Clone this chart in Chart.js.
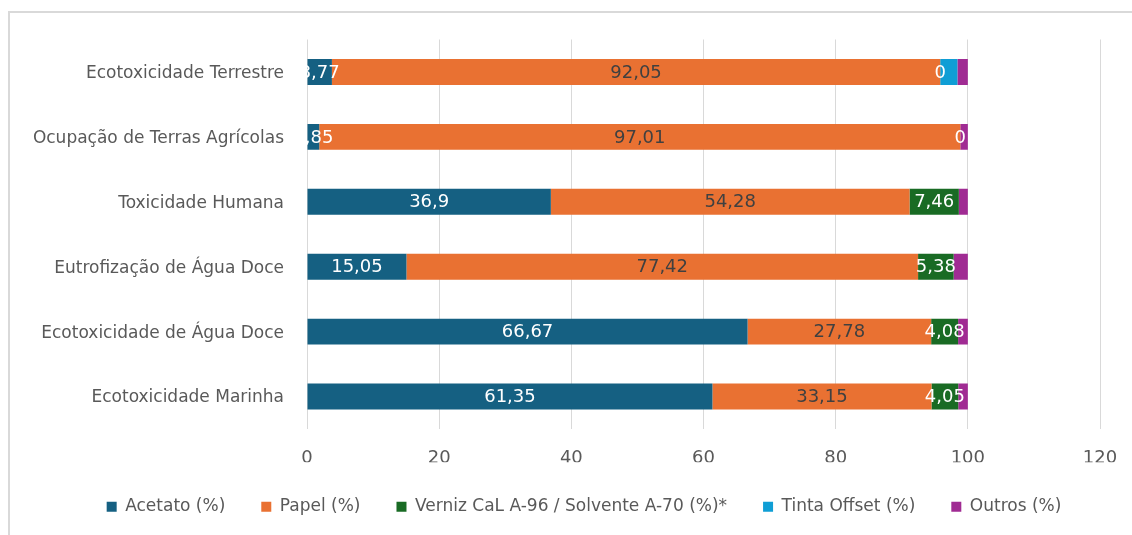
<!DOCTYPE html>
<html>
<head>
<meta charset="utf-8">
<script src="https://cdn.jsdelivr.net/npm/chart.js@4.4.1/dist/chart.umd.min.js"></script>
<style>
  html, body { margin: 0; padding: 0; background: #ffffff; overflow: hidden; }
  #frame {
    position: absolute; left: 8px; top: 11px; width: 1300px; height: 700px;
    border-left: 2px solid #d9d9d9; border-top: 2px solid #d9d9d9;
  }
  #wrap { position: absolute; left: 0; top: 0; width: 1132px; height: 535px; }
</style>
</head>
<body>
<div id="frame"></div>
<div id="wrap"><canvas id="chart" width="1132" height="535"></canvas></div>
<script>
// Impact categories (top to bottom)
const categories = [
  'Ecotoxicidade Terrestre',
  'Ocupação de Terras Agrícolas',
  'Toxicidade Humana',
  'Eutrofização de Água Doce',
  'Ecotoxicidade de Água Doce',
  'Ecotoxicidade Marinha'
];

// Contribution of each component (%)
const acetato = [3.77, 1.85, 36.9, 15.05, 66.67, 61.35];
const papel   = [92.05, 97.01, 54.28, 77.42, 27.78, 33.15];
const verniz  = [0, 0, 7.46, 5.38, 4.08, 4.05];
const tinta   = [2.6, 0, 0, 0, 0, 0];
const outros  = [1.58, 1.14, 1.36, 2.15, 1.47, 1.45];

const seriesNames = [
  'Acetato (%)',
  'Papel (%)',
  'Verniz CaL A-96 / Solvente A-70 (%)*',
  'Tinta Offset (%)',
  'Outros (%)'
];

const xTickValues = [0, 20, 40, 60, 80, 100, 120];

const FONT = '"DejaVu Sans", sans-serif';
const TEXT = '#595959';

const fmt = v => String(v).replace('.', ',');

// Centered value labels inside the bar segments, clipped to the plot area
const segmentLabels = {
  id: 'segmentLabels',
  afterDatasetsDraw(chart) {
    const { ctx, chartArea } = chart;
    ctx.save();
    ctx.beginPath();
    ctx.rect(chartArea.left, chartArea.top, chartArea.right - chartArea.left, chartArea.bottom - chartArea.top);
    ctx.clip();
    ctx.font = '18px ' + FONT;
    ctx.textAlign = 'center';
    ctx.textBaseline = 'middle';
    chart.data.datasets.forEach((ds, i) => {
      if (!ds.labelColor) return;
      const meta = chart.getDatasetMeta(i);
      meta.data.forEach((bar, j) => {
        ctx.fillStyle = ds.labelColor;
        ctx.fillText(fmt(ds.data[j]), (bar.x + bar.base) / 2, bar.y + 1);
      });
    });
    ctx.restore();
  }
};

// Centre the legend row under the plot rather than under the whole canvas
const legendShift = {
  id: 'legendShift',
  afterLayout(chart) {
    if (chart.legend) {
      chart.legend.left += 34;
      chart.legend.right += 34;
    }
  }
};

const ds = (label, data, color, labelColor) => ({
  label, data,
  backgroundColor: color,
  borderWidth: 0,
  barPercentage: 0.4,
  categoryPercentage: 1.0,
  labelColor
});

new Chart(document.getElementById('chart'), {
  type: 'bar',
  data: {
    labels: categories,
    datasets: [
      ds(seriesNames[0], acetato, '#156082', '#ffffff'),
      ds(seriesNames[1], papel,   '#E97132', '#404040'),
      ds(seriesNames[2], verniz,  '#196B24', '#ffffff'),
      ds(seriesNames[3], tinta,   '#0F9ED5', null),
      ds(seriesNames[4], outros,  '#A02B93', null)
    ]
  },
  options: {
    indexAxis: 'y',
    responsive: false,
    animation: false,
    layout: { padding: { left: 0, right: 32, top: 39.5, bottom: 9.75 } },
    scales: {
      x: {
        stacked: true,
        min: 0, max: 120,
        afterBuildTicks: s => { s.ticks = xTickValues.map(v => ({ value: v })); },
        afterFit: s => { s.height = 33.25; s.paddingLeft = 0; s.paddingRight = 0; },
        grid: { color: '#d9d9d9', lineWidth: 1, drawTicks: false },
        border: { display: false },
        ticks: { color: TEXT, font: { family: FONT, size: 18 }, padding: 19 }
      },
      y: {
        stacked: true,
        afterFit: s => { s.width = 307; },
        grid: { display: false, drawTicks: false },
        border: { display: false },
        ticks: { color: TEXT, font: { family: FONT, size: 17 }, padding: 23, labelOffset: 1.5 }
      }
    },
    plugins: {
      legend: {
        position: 'bottom',
        labels: {
          boxWidth: 10, boxHeight: 10, padding: 36,
          color: TEXT, font: { family: FONT, size: 17 }
        }
      },
      tooltip: { enabled: false }
    }
  },
  plugins: [segmentLabels, legendShift]
});
</script>
</body>
</html>
